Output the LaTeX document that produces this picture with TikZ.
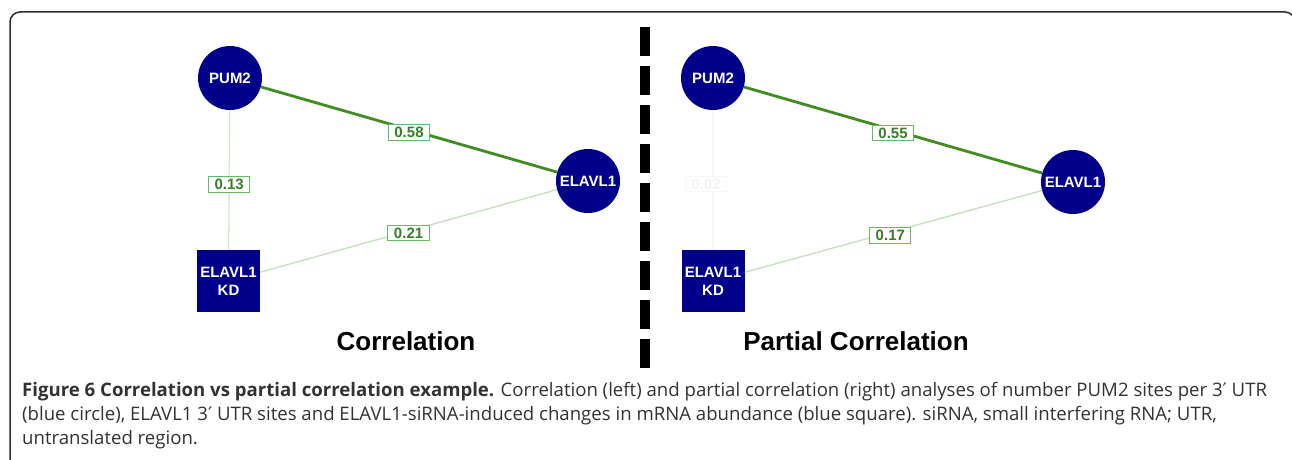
\documentclass[tikz,border=0pt]{standalone}
\usepackage{fontspec}
\setmainfont{Liberation Sans}
\newfontfamily\capfont{Open Sans}
\newfontfamily\symfont{DejaVu Sans}
\newcommand{\prm}{{\symfont ′}}
\definecolor{nodeblue}{RGB}{0,0,139}
\definecolor{strongedge}{RGB}{62,140,34}
\definecolor{weakedge}{RGB}{208,234,202}
\definecolor{paleedge}{RGB}{192,226,186}
\definecolor{ghostedge}{RGB}{246,248,246}
\definecolor{labeltext}{RGB}{58,125,40}
\definecolor{labelframe}{RGB}{100,186,100}
\definecolor{ghosttext}{RGB}{242,245,242}
\definecolor{framegray}{RGB}{45,45,45}
\definecolor{captext}{RGB}{50,50,50}
\begin{document}
\begin{tikzpicture}[x=1pt,y=-1pt]
	\tikzset{
		gene/.style={circle,fill=nodeblue,minimum size=64pt,inner sep=0pt,text=white,font=\bfseries\fontsize{15}{17}\selectfont},
		kdbox/.style={rectangle,fill=nodeblue,minimum width=63pt,minimum height=62pt,inner sep=0pt,text=white,align=center,font=\bfseries\fontsize{15}{18}\selectfont},
		weight/.style={draw=labelframe,fill=white,text=labeltext,inner xsep=6pt,inner ysep=2.5pt,line width=1pt,font=\bfseries\fontsize{15}{17}\selectfont},
		strong/.style={strongedge,line width=2.8pt},
		weak/.style={weakedge,line width=1.3pt},
		title/.style={font=\bfseries\fontsize{26}{30}\selectfont},
		capline/.style={anchor=west,inner sep=0pt,text=captext,font=\capfont\fontsize{18.6}{24}\selectfont}
	}
	\useasboundingbox (0,0) rectangle (1292,460);
	% frame
	\draw[framegray,line width=1.5pt,rounded corners=10pt] (10,475) -- (10,12) -- (1295,12) -- (1295,475);
	% left: correlation
	\node[gene] (pumL) at (230,78) {PUM2};
	\node[gene] (elavL) at (588,181) {ELAVL1};
	\node[kdbox] (kdL) at (228.5,281) {ELAVL1\\KD};
	\draw[weak] (pumL) -- node[weight,pos=0.53] (wPK) {0.13} (kdL);
	\draw[strong] (pumL) -- node[weight,yshift=-3pt] (wPE) {0.58} (elavL);
	\draw[weak,paleedge] (kdL) -- node[weight,yshift=-2pt] (wKE) {0.21} (elavL);
	\node[title] (corr) at (406,341) {Correlation};
	% divider
	\coordinate (divtop) at (645,27);
	\coordinate (divbot) at (645,368);
	\draw[line width=10pt,dash pattern=on 29pt off 10pt] (divtop) -- (divbot);
	% right: partial correlation
	\node[gene] (pumR) at (713,78) {PUM2};
	\node[gene] (elavR) at (1073,182) {ELAVL1};
	\node[kdbox] (kdR) at (713,281) {ELAVL1\\KD};
	\draw[ghostedge,line width=1.2pt] (pumR) -- node[weight,draw=ghostedge,text=ghosttext,pos=0.53,xshift=-7pt] (wPKp) {0.02} (kdR);
	\draw[strong] (pumR) -- node[weight,yshift=-3pt] (wPEp) {0.55} (elavR);
	\draw[weak,paleedge] (kdR) -- node[weight,yshift=-4pt,xshift=-3pt] (wKEp) {0.17} (elavR);
	\node[title] (pcorr) at (856,341) {Partial Correlation};
	% caption
	\node[capline] (cap1) at (22,392) {\textbf{Figure 6 Correlation vs partial correlation example.} Correlation (left) and partial correlation (right) analyses of number PUM2 sites per 3\prm{} UTR};
	\node[capline] (cap2) at (22,416) {(blue circle), ELAVL1 3\prm{} UTR sites and ELAVL1-siRNA-induced changes in mRNA abundance (blue square). siRNA, small interfering RNA; UTR,};
	\node[capline] (cap3) at (22,440) {untranslated region.};
\end{tikzpicture}
\end{document}
